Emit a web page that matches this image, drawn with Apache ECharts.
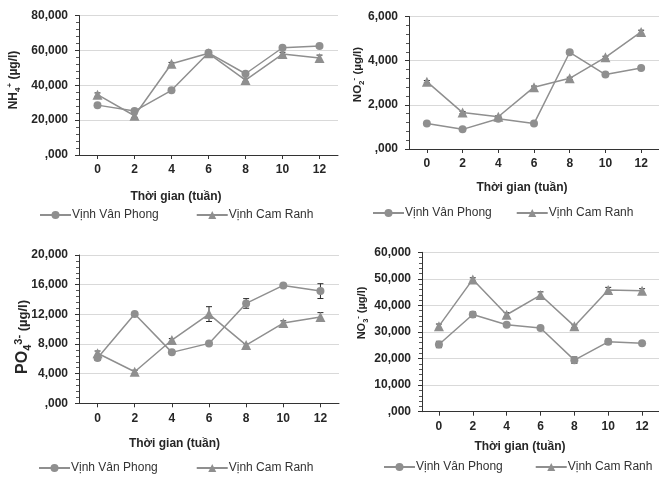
<!DOCTYPE html>
<html>
<head>
<meta charset="utf-8">
<script src="https://cdn.jsdelivr.net/npm/echarts@6/dist/echarts.min.js"></script>
<style>html,body{margin:0;padding:0;background:#fff}#c{width:659px;height:480px}</style>
</head>
<body>
<div id="c"></div>
<script>
// ---- data ----
const categories = ['0', '2', '4', '6', '8', '10', '12'];
const seriesNames = ['Vịnh Vân Phong', 'Vịnh Cam Ranh'];
const xTitle = 'Thời gian (tuần)';

const nh4VanPhong = [28.6, 25.2, 37.1, 58.6, 46.6, 61.5, 62.5];
const nh4CamRanh = [34.6, 22.5, 52.3, 58.3, 43.0, 57.9, 55.6];
const nh4ErrVanPhong = [0.8, 0.8, 0.8, 0.8, 0.8, 0.8, 0.8];
const nh4ErrCamRanh = [1.0, 1.0, 0.8, 0.8, 1.0, 1.0, 1.7];

const no2VanPhong = [1.15, 0.89, 1.37, 1.15, 4.38, 3.37, 3.67];
const no2CamRanh = [3.05, 1.65, 1.46, 2.80, 3.20, 4.15, 5.30];
const no2ErrVanPhong = [0.05, 0.05, 0.05, 0.05, 0.08, 0.05, 0.05];
const no2ErrCamRanh = [0.05, 0.05, 0.05, 0.05, 0.05, 0.05, 0.08];

const po4VanPhong = [6.10, 12.03, 6.87, 8.08, 13.47, 15.90, 15.13];
const po4CamRanh = [6.75, 4.26, 8.53, 12.03, 7.85, 10.82, 11.63];
const po4ErrVanPhong = [0.3, 0.2, 0.2, 0.2, 0.65, 0.2, 1.0];
const po4ErrCamRanh = [0.3, 0.2, 0.2, 1.0, 0.2, 0.3, 0.6];

const no3VanPhong = [25.3, 36.6, 32.7, 31.5, 19.4, 26.3, 25.8];
const no3CamRanh = [32.2, 49.8, 36.5, 43.9, 32.2, 45.8, 45.5];
const no3ErrVanPhong = [1.2, 1.0, 0.6, 0.5, 1.2, 1.0, 0.5];
const no3ErrCamRanh = [0.8, 0.6, 0.8, 1.2, 0.5, 1.0, 0.8];

const nh4Ticks = [',000', '20,000', '40,000', '60,000', '80,000'];
const no2Ticks = [',000', '2,000', '4,000', '6,000'];
const po4Ticks = [',000', '4,000', '8,000', '12,000', '16,000', '20,000'];
const no3Ticks = [',000', '10,000', '20,000', '30,000', '40,000', '50,000', '60,000'];

// ---- styling ----
const FONT = 'Liberation Sans, Arial, sans-serif';
const TXT = '#262626';
const LINE = '#8f8f8f';

const panels = [
  { grid: { left: 79, top: 15.5, width: 259, height: 139.5 }, ticks: nh4Ticks, interval: 20,
    vp: nh4VanPhong, cr: nh4CamRanh, evp: nh4ErrVanPhong, ecr: nh4ErrCamRanh },
  { grid: { left: 409, top: 16.5, width: 254, height: 132.5 }, ticks: no2Ticks, interval: 2,
    vp: no2VanPhong, cr: no2CamRanh, evp: no2ErrVanPhong, ecr: no2ErrCamRanh },
  { grid: { left: 79, top: 255, width: 260, height: 148.3 }, ticks: po4Ticks, interval: 4,
    vp: po4VanPhong, cr: po4CamRanh, evp: po4ErrVanPhong, ecr: po4ErrCamRanh },
  { grid: { left: 422, top: 252.3, width: 239, height: 159.4 }, ticks: no3Ticks, interval: 10,
    vp: no3VanPhong, cr: no3CamRanh, evp: no3ErrVanPhong, ecr: no3ErrCamRanh }
];

const grids = [], xAxes = [], yAxes = [], series = [];
panels.forEach((p, i) => {
  grids.push(Object.assign({}, p.grid));
  xAxes.push({
    type: 'category', gridIndex: i, data: categories, boundaryGap: true,
    axisLine: { lineStyle: { color: '#333', width: 1 } },
    axisTick: { show: true, alignWithLabel: true, length: 4, lineStyle: { color: '#333' } },
    axisLabel: { fontFamily: FONT, fontWeight: 'bold', fontSize: 12, color: TXT, margin: 9, interval: 0 },
    splitLine: { show: false }
  });
  const ticks = p.ticks, iv = p.interval;
  yAxes.push({
    type: 'value', gridIndex: i, min: 0, max: iv * (ticks.length - 1), interval: iv,
    axisLine: { show: true, lineStyle: { color: '#333', width: 1 } },
    axisTick: { show: true, length: 4, lineStyle: { color: '#333' } },
    minorTick: { show: true, splitNumber: 5, length: 3, lineStyle: { color: '#555' } },
    axisLabel: { fontFamily: FONT, fontWeight: 'bold', fontSize: 12, color: TXT, margin: 11,
      formatter: v => ticks[Math.round(v / iv)] },
    splitLine: { show: true, lineStyle: { color: '#d9d9d9', width: 1 } }
  });
  const mk = (name, data, symbol, size) => ({
    type: 'line', name: name, xAxisIndex: i, yAxisIndex: i, data: data,
    symbol: symbol, symbolSize: size, showSymbol: true, z: 3,
    lineStyle: { color: LINE, width: 1.5 }, itemStyle: { color: LINE }, animation: false
  });
  const eb = (name, data, err) => ({
    type: 'custom', name: name + ' (sai số)', xAxisIndex: i, yAxisIndex: i, z: 2, silent: true, animation: false,
    data: data.map((v, k) => [k, v, err[k]]),
    encode: { x: 0, y: 1 },
    renderItem: (params, api) => {
      const x = api.value(0), v = api.value(1), e = api.value(2);
      const hi = api.coord([x, v + e]), lo = api.coord([x, v - e]);
      const w = 3;
      const st = { stroke: '#2b2b2b', lineWidth: 1 };
      return { type: 'group', children: [
        { type: 'line', shape: { x1: hi[0], y1: hi[1], x2: lo[0], y2: lo[1] }, style: st },
        { type: 'line', shape: { x1: hi[0] - w, y1: hi[1], x2: hi[0] + w, y2: hi[1] }, style: st },
        { type: 'line', shape: { x1: lo[0] - w, y1: lo[1], x2: lo[0] + w, y2: lo[1] }, style: st }
      ] };
    }
  });
  series.push(mk(seriesNames[0], p.vp, 'circle', 8));
  series.push(mk(seriesNames[1], p.cr, 'triangle', 10));
  series.push(eb(seriesNames[0], p.vp, p.evp));
  series.push(eb(seriesNames[1], p.cr, p.ecr));
});

const legendPos = [
  { left: 39, top: 209, itemGap: 37 },
  { left: 372, top: 207, itemGap: 24 },
  { left: 38, top: 462, itemGap: 38 },
  { left: 383, top: 461, itemGap: 32 }
];
const legends = legendPos.map(lp => ({
  data: seriesNames, left: lp.left, top: lp.top, itemGap: lp.itemGap,
  itemWidth: 31, itemHeight: 10, padding: 0, selectedMode: false,
  textStyle: { fontFamily: FONT, fontSize: 12, color: '#333', padding: [0, 0, 0, -4] }
}));

const xTitlePos = [[176, 197], [522, 188], [174.5, 444], [520, 447]];
const graphics = xTitlePos.map(p => ({
  type: 'text', x: p[0], y: p[1],
  style: { text: xTitle, font: 'bold 12px ' + FONT, fill: TXT, align: 'center', verticalAlign: 'middle' }
}));

function yName(x, y, text, rich) {
  return { type: 'text', x: x, y: y, rotation: Math.PI / 2,
    style: { text: text, rich: rich, fill: TXT, align: 'center', verticalAlign: 'middle', fontFamily: FONT, fontWeight: 'bold' } };
}
const r = (fs, va) => Object.assign({ fontSize: fs, fontWeight: 'bold', fontFamily: FONT, fill: TXT, lineHeight: 16 }, va ? { verticalAlign: va } : {});
graphics.push(yName(14, 80, '{b|NH}{s|4}{p|+}{b| (µg/l)}', { b: r(12), s: r(8, 'bottom'), p: r(8, 'top') }));
graphics.push(yName(358, 74.5, '{b|NO}{s|2}{p|-}{b| (µg/l)}', { b: r(11.5), s: r(8, 'bottom'), p: r(8, 'top') }));
graphics.push(yName(23, 337, '{b|PO}{s|4}{p|3-}{c| (µg/l)}', { b: Object.assign(r(16), { lineHeight: 20 }), s: Object.assign(r(11, 'bottom'), { lineHeight: 20 }), p: Object.assign(r(11, 'top'), { lineHeight: 20 }), c: Object.assign(r(13), { lineHeight: 20 }) }));
graphics.push(yName(362, 313, '{b|NO}{s|3}{p|-}{b| (µg/l)}', { b: r(11), s: r(7.5, 'bottom'), p: r(7.5, 'top') }));

const chart = echarts.init(document.getElementById('c'), null, { renderer: 'canvas' });
chart.setOption({
  animation: false,
  backgroundColor: '#fff',
  grid: grids, xAxis: xAxes, yAxis: yAxes, series: series,
  legend: legends, graphic: graphics
});
</script>
</body>
</html>
